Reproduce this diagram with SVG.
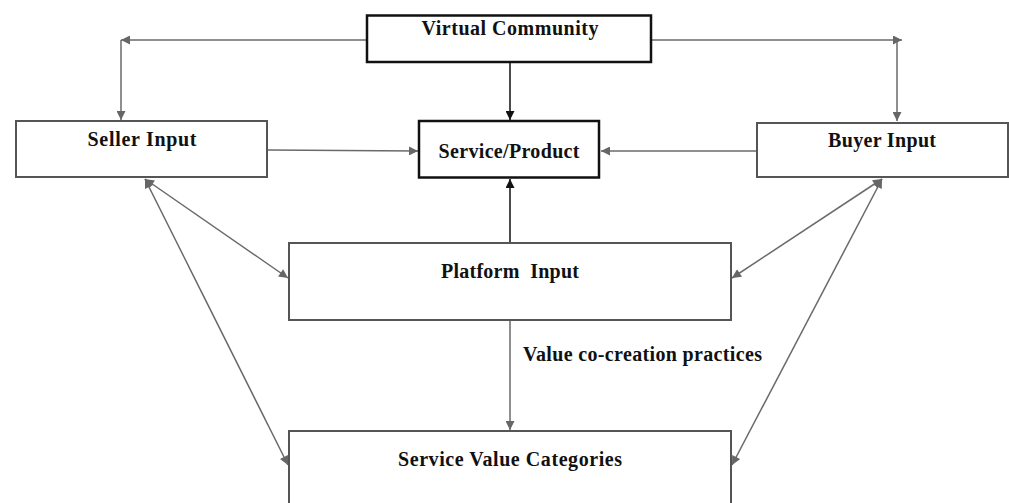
<svg xmlns="http://www.w3.org/2000/svg" width="1009" height="503" viewBox="0 0 1009 503">
<defs>
<marker id="ag" viewBox="0 0 10 10" refX="10" refY="5" markerWidth="11" markerHeight="9" markerUnits="userSpaceOnUse" orient="auto-start-reverse"><path d="M0,0 L10,5 L0,10 z" fill="#666"/></marker>
<marker id="ab" viewBox="0 0 10 10" refX="10" refY="5" markerWidth="11" markerHeight="9" markerUnits="userSpaceOnUse" orient="auto-start-reverse"><path d="M0,0 L10,5 L0,10 z" fill="#111"/></marker>
</defs>
<style>
.gb{fill:#fff;stroke:#555;stroke-width:2}
.bb{fill:#fff;stroke:#111;stroke-width:2.5}
.t{font-family:"Liberation Serif",serif;font-weight:bold;font-size:20px;fill:#111;text-anchor:middle}
.g{stroke:#6a6a6a;stroke-width:1.5;fill:none}
.k{stroke:#111;stroke-width:1.5;fill:none}
</style>
<rect width="1009" height="503" fill="#fff"/>
<g id="connectors">
<path class="g" d="M367,40 H121" marker-end="url(#ag)"/>
<path class="g" d="M121,40 V120" marker-end="url(#ag)"/>
<path class="g" d="M651,40 H902" marker-end="url(#ag)"/>
<path class="g" d="M897,40 V121" marker-end="url(#ag)"/>
<path class="k" d="M510,62 V120" marker-end="url(#ab)"/>
<path class="g" d="M268,150 L418,151" marker-end="url(#ag)"/>
<path class="g" d="M756,151 H601" marker-end="url(#ag)"/>
<path class="k" d="M510,243 V179" marker-end="url(#ab)"/>
<path class="g" d="M145,179 L288,278" marker-start="url(#ag)" marker-end="url(#ag)"/>
<path class="g" d="M145,179 L288,465" marker-start="url(#ag)" marker-end="url(#ag)"/>
<path class="g" d="M882,179 L732,278" marker-start="url(#ag)" marker-end="url(#ag)"/>
<path class="g" d="M882,179 L732,465" marker-start="url(#ag)" marker-end="url(#ag)"/>
<path class="g" d="M510,321 V430" marker-end="url(#ag)"/>
<text class="t" x="523" y="361" style="text-anchor:start" textLength="239">Value co-creation practices</text>
</g>
<g id="virtual-community">
<rect class="bb" x="367" y="15.5" width="284" height="46.5"/>
<text class="t" x="510" y="35" textLength="177">Virtual Community</text>
</g>
<g id="seller-input">
<rect class="gb" x="16" y="121" width="251" height="56"/>
<text class="t" x="142" y="146" textLength="109">Seller Input</text>
</g>
<g id="service-product">
<rect class="bb" x="419" y="121" width="180" height="56.5"/>
<text class="t" x="509" y="158" textLength="141">Service/Product</text>
</g>
<g id="buyer-input">
<rect class="gb" x="757" y="123" width="251" height="54"/>
<text class="t" x="882" y="147" textLength="108">Buyer Input</text>
</g>
<g id="platform-input">
<rect class="gb" x="289" y="243" width="442" height="77"/>
<text class="t" x="510" y="278" textLength="138" xml:space="preserve">Platform  Input</text>
</g>
<g id="service-value-categories">
<rect class="gb" x="289" y="431" width="442" height="80"/>
<text class="t" x="510" y="466" textLength="224">Service Value Categories</text>
</g>
</svg>
